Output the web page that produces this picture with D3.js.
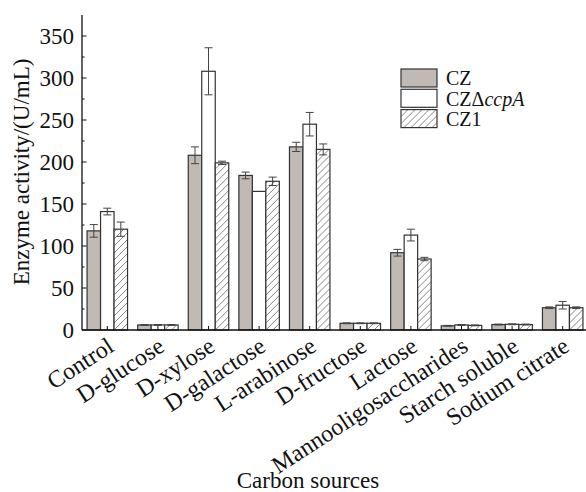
<!DOCTYPE html>
<html lang="en">
<head>
<meta charset="UTF-8">
<title>Enzyme activity by carbon source</title>
<script src="https://cdnjs.cloudflare.com/ajax/libs/d3/7.8.5/d3.min.js"></script>
<style>
    body { margin: 0; background: #fff; }
    svg { display: block; font-family: 'Liberation Serif', 'Times New Roman', serif; }
    .axis-text { font-size: 23px; fill: #111; }
    .cat-text { font-size: 24px; fill: #111; }
    .legend-text { font-size: 20px; fill: #111; }
</style>
</head>
<body>
<div id="chart"></div>
<script>
// data
const categories = ["Control", "D-glucose", "D-xylose", "D-galactose", "L-arabinose",
    "D-fructose", "Lactose", "Mannooligosaccharides", "Starch soluble", "Sodium citrate"];
const czValues    = [118, 6, 208, 184, 218, 8, 92, 5, 6.5, 26.5];
const czErrors    = [7.5, 0.5, 10, 4, 5.5, 0.5, 4, 0.5, 0.5, 1];
const deltaValues = [141, 6, 308, 165, 245, 8, 113, 6, 6.8, 29.5];
const deltaErrors = [4, 0.5, 28, 0, 14, 0.5, 7, 0.5, 0.5, 4.5];
const cz1Values   = [120, 6, 199, 177, 215, 8, 84.5, 5.5, 6.5, 26.5];
const cz1Errors   = [8.5, 0.5, 2, 5, 6.5, 0.5, 2, 0.5, 0.5, 1];
const seriesNames = ["CZ", "CZΔccpA", "CZ1"];
const yTicks = [0, 50, 100, 150, 200, 250, 300, 350];

const W = 586, H = 492;
const svg = d3.select("#chart").append("svg")
    .attr("width", W).attr("height", H);

// hatch pattern for CZ1
const defs = svg.append("defs");
const pat = defs.append("pattern")
    .attr("id", "hatch")
    .attr("patternUnits", "userSpaceOnUse")
    .attr("width", 7).attr("height", 7);
pat.append("rect").attr("width", 7).attr("height", 7).attr("fill", "#fff");
pat.append("path")
    .attr("d", "M-1,8 L8,-1 M-1,1 L1,-1 M6,8 L8,6")
    .attr("stroke", "#666").attr("stroke-width", 0.8);

const fills = ["#c1b9b4", "#ffffff", "url(#hatch)"];

const x = d3.scaleBand().domain(categories).range([82, 588])
    .paddingInner(0.2).paddingOuter(0.1);
const xs = d3.scaleBand().domain(d3.range(3)).range([0, x.bandwidth()]);
const y = d3.scaleLinear().domain([0, 375]).range([330, 15]);

const rows = categories.map((c, i) => ({
    cat: c,
    vals: [
        { s: 0, v: czValues[i], e: czErrors[i] },
        { s: 1, v: deltaValues[i], e: deltaErrors[i] },
        { s: 2, v: cz1Values[i], e: cz1Errors[i] }
    ]
}));

// bars
const groups = svg.selectAll(".grp").data(rows).enter().append("g")
    .attr("class", "grp")
    .attr("transform", d => `translate(${x(d.cat)},0)`);

groups.selectAll("rect").data(d => d.vals).enter().append("rect")
    .attr("x", d => xs(d.s))
    .attr("y", d => y(d.v))
    .attr("width", xs.bandwidth())
    .attr("height", d => y(0) - y(d.v))
    .attr("fill", d => fills[d.s])
    .attr("stroke", "#333")
    .attr("stroke-width", 1.2);

// error bars
const eb = groups.selectAll(".err").data(d => d.vals.filter(v => v.e > 0)).enter().append("g")
    .attr("class", "err")
    .attr("stroke", "#444").attr("stroke-width", 1);
eb.append("line")
    .attr("x1", d => xs(d.s) + xs.bandwidth() / 2)
    .attr("x2", d => xs(d.s) + xs.bandwidth() / 2)
    .attr("y1", d => y(d.v + d.e))
    .attr("y2", d => y(d.v - d.e));
eb.append("line")
    .attr("x1", d => xs(d.s) + xs.bandwidth() / 2 - 4)
    .attr("x2", d => xs(d.s) + xs.bandwidth() / 2 + 4)
    .attr("y1", d => y(d.v + d.e)).attr("y2", d => y(d.v + d.e));
eb.append("line")
    .attr("x1", d => xs(d.s) + xs.bandwidth() / 2 - 4)
    .attr("x2", d => xs(d.s) + xs.bandwidth() / 2 + 4)
    .attr("y1", d => y(d.v - d.e)).attr("y2", d => y(d.v - d.e));

// y axis
const yAxis = svg.append("g").attr("transform", "translate(82,0)");
yAxis.append("line").attr("x1", 0).attr("x2", 0).attr("y1", y(375)).attr("y2", y(0))
    .attr("stroke", "#111").attr("stroke-width", 1.3);
yAxis.selectAll(".minor").data(d3.range(25, 375, 50)).enter().append("line")
    .attr("x1", 0).attr("x2", 2.5).attr("y1", d => y(d)).attr("y2", d => y(d))
    .attr("stroke", "#111");
yAxis.selectAll(".major").data(yTicks).enter().append("line")
    .attr("x1", 0).attr("x2", 4.5).attr("y1", d => y(d)).attr("y2", d => y(d))
    .attr("stroke", "#111");
yAxis.selectAll(".lbl").data(yTicks).enter().append("text")
    .attr("class", "axis-text")
    .attr("x", -8).attr("y", d => y(d)).attr("dy", "0.34em")
    .attr("text-anchor", "end")
    .text(d => d);

// x axis
const xAxis = svg.append("g");
xAxis.append("line").attr("x1", 82).attr("x2", W).attr("y1", y(0)).attr("y2", y(0))
    .attr("stroke", "#111").attr("stroke-width", 1.3);
xAxis.selectAll(".tk").data(categories).enter().append("line")
    .attr("x1", d => x(d) + x.bandwidth() / 2).attr("x2", d => x(d) + x.bandwidth() / 2)
    .attr("y1", y(0)).attr("y2", y(0) - 4)
    .attr("stroke", "#111");
xAxis.selectAll(".lbl").data(categories).enter().append("text")
    .attr("class", "cat-text")
    .attr("text-anchor", "end")
    .attr("transform", d => `translate(${x(d) + x.bandwidth() / 2 + 8},350) rotate(-33)`)
    .text(d => d);

// axis titles
svg.append("text").attr("class", "axis-text")
    .attr("text-anchor", "middle")
    .attr("transform", "translate(29,172) rotate(-90)")
    .text("Enzyme activity/(U/mL)");
svg.append("text").attr("class", "axis-text")
    .attr("text-anchor", "middle")
    .attr("x", 308).attr("y", 488)
    .text("Carbon sources");

// legend
const legend = svg.append("g").attr("transform", "translate(401,69)");
seriesNames.forEach((name, i) => {
    const row = legend.append("g").attr("transform", `translate(0,${i * 20.3})`);
    row.append("rect").attr("width", 36).attr("height", 18)
        .attr("fill", fills[i]).attr("stroke", "#333").attr("stroke-width", 1.2);
    const t = row.append("text").attr("class", "legend-text")
        .attr("x", 45).attr("y", 9).attr("dy", "0.36em");
    if (name.includes("Δ")) {
        t.append("tspan").text("CZΔ");
        t.append("tspan").attr("font-style", "italic").text("ccpA");
    } else {
        t.text(name);
    }
});
</script>
</body>
</html>
